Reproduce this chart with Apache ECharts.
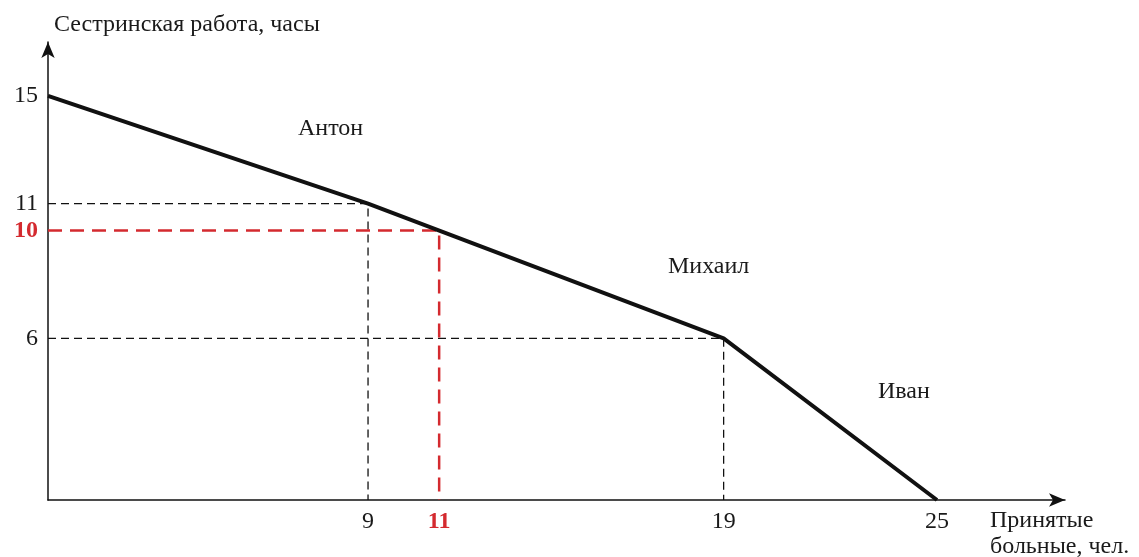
<!DOCTYPE html>
<html>
<head>
<meta charset="utf-8">
<script src="https://cdn.jsdelivr.net/npm/echarts@6/dist/echarts.min.js"></script>
<style>
  html, body { margin: 0; padding: 0; background: #fff; }
  #chart { width: 1139px; height: 557px; }
</style>
</head>
<body>
<div id="chart"></div>
<script>
// production possibility curve: patients accepted vs nursing hours
const patients = [0, 9, 19, 25];
const hours = [15, 11, 6, 0];
const workers = ['Антон', 'Михаил', 'Иван'];

// chosen point
const pickPatients = 11;
const pickHours = 10;

const xTicks = [9, 11, 19, 25];
const yTicks = [15, 11, 10, 6];

const font = '"Liberation Serif", "DejaVu Serif", serif';
const red = '#d42a2f';
const fs = 24;

let chart = echarts.init(document.getElementById('chart'));

let curve = patients.map((p, i) => [p, hours[i]]);
let guide = (x, y) => [[0, y], [x, y], [x, 0]];

let option = {
    animation: false,
    title: {
        text: 'Сестринская работа, часы',
        left: 49,
        top: 8,
        textStyle: { fontFamily: font, fontSize: fs, fontWeight: 'normal', color: '#1a1a1a' }
    },
    grid: { left: 48, right: 74, top: 42, bottom: 57 },
    xAxis: {
        type: 'value',
        min: 0,
        max: 28.6,
        splitLine: { show: false },
        axisTick: { show: false },
        axisLine: { symbol: ['none', 'arrow'], symbolSize: [10, 16], lineStyle: { color: '#111', width: 1.5 } },
        axisLabel: {
            customValues: xTicks,
            margin: 10,
            fontFamily: font,
            fontSize: fs,
            color: '#1a1a1a',
            formatter: v => v === pickPatients ? '{hi|' + v + '}' : String(v),
            rich: { hi: { color: red, fontWeight: 'bold', fontFamily: font, fontSize: fs } }
        }
    },
    yAxis: {
        type: 'value',
        min: 0,
        max: 17,
        splitLine: { show: false },
        axisTick: { show: false },
        axisLine: { symbol: ['none', 'arrow'], symbolSize: [10, 16], lineStyle: { color: '#111', width: 1.5 } },
        axisLabel: {
            customValues: yTicks,
            margin: 10,
            fontFamily: font,
            fontSize: fs,
            color: '#1a1a1a',
            formatter: v => v === pickHours ? '{hi|' + v + '}' : String(v),
            rich: { hi: { color: red, fontWeight: 'bold', fontFamily: font, fontSize: fs } }
        }
    },
    graphic: [
        { type: 'text', left: 298, top: 117, style: { text: workers[0], font: fs + 'px ' + font, fill: '#1a1a1a' } },
        { type: 'text', left: 668, top: 255, style: { text: workers[1], font: fs + 'px ' + font, fill: '#1a1a1a' } },
        { type: 'text', left: 878, top: 380, style: { text: workers[2], font: fs + 'px ' + font, fill: '#1a1a1a' } },
        { type: 'text', left: 990, top: 508, style: { text: 'Принятые\nбольные, чел.', font: fs + 'px ' + font, lineHeight: 26, fill: '#1a1a1a' } }
    ],
    series: [
        {
            type: 'line',
            data: guide(patients[1], hours[1]),
            symbol: 'none',
            silent: true,
            lineStyle: { color: '#111', width: 1.3, type: [8, 5] }
        },
        {
            type: 'line',
            data: guide(patients[2], hours[2]),
            symbol: 'none',
            silent: true,
            lineStyle: { color: '#111', width: 1.3, type: [8, 5] }
        },
        {
            type: 'line',
            data: guide(pickPatients, pickHours),
            symbol: 'none',
            silent: true,
            lineStyle: { color: red, width: 2.5, type: [14, 8] }
        },
        {
            type: 'line',
            data: curve,
            symbol: 'none',
            z: 5,
            lineStyle: { color: '#111', width: 4 }
        }
    ]
};

chart.setOption(option);
</script>
</body>
</html>
